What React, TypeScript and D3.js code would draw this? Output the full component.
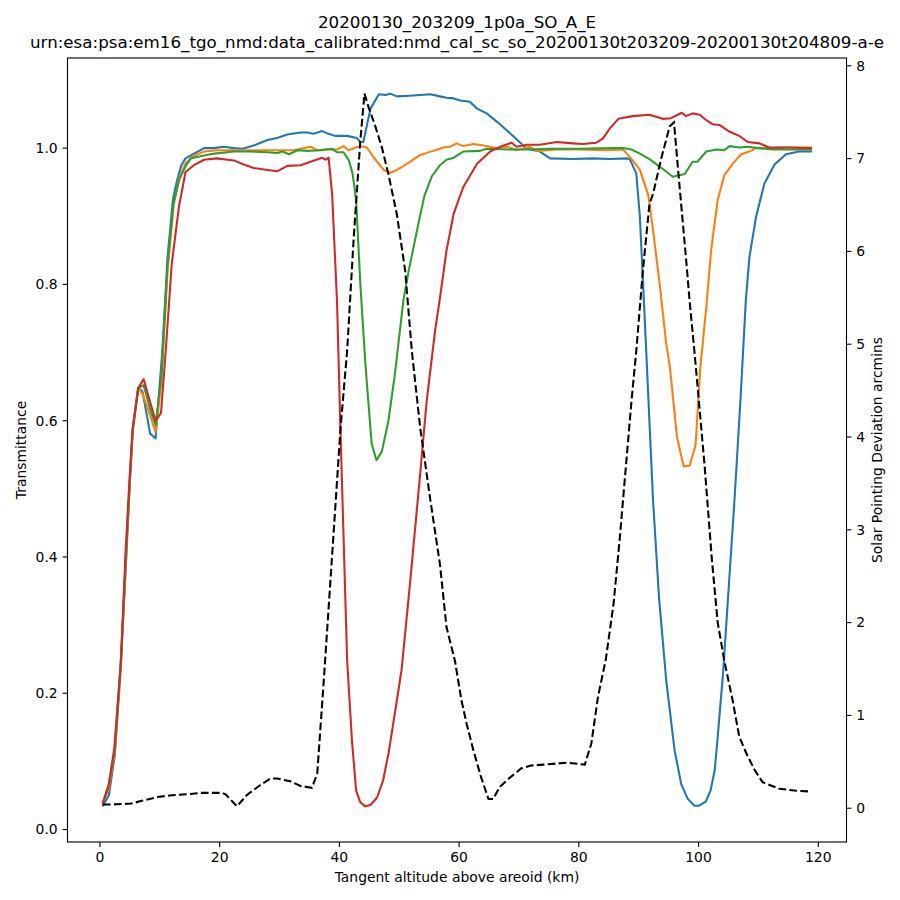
// Transmittance vs tangent altitude, with solar pointing deviation on a twin axis

import { useEffect, useRef } from "react";
import * as d3 from "d3";

type Pt = [number, number]; // [altitude km, value]

const TITLE_LINES = [
  "20200130_203209_1p0a_SO_A_E",
  "urn:esa:psa:em16_tgo_nmd:data_calibrated:nmd_cal_sc_so_20200130t203209-20200130t204809-a-e",
];

const X_TICKS = [0, 20, 40, 60, 80, 100, 120];
const Y_TICKS = [0, 0.2, 0.4, 0.6, 0.8, 1.0];
const Y2_TICKS = [0, 1, 2, 3, 4, 5, 6, 7, 8];

// transmittance, bin 1 (blue)
const BIN_A: Pt[] = [
  [0.5, 0.035], [1.5, 0.05], [2.5, 0.11], [3.5, 0.24], [4.4, 0.4], [5.0, 0.51], [5.5, 0.59],
  [6.4, 0.648], [7.1, 0.643], [8.4, 0.581], [9.3, 0.574], [10.4, 0.7], [11.3, 0.84], [12.2, 0.925],
  [12.9, 0.953], [13.6, 0.975], [14.3, 0.985], [15.7, 0.992], [17.4, 1.0], [19, 1.0], [20.7, 1.002],
  [22.4, 1.0], [23.8, 0.999], [25.7, 1.004], [28, 1.012], [29.6, 1.015], [31.3, 1.02], [33.5, 1.023],
  [34.6, 1.023], [35.7, 1.021], [37.1, 1.025], [37.9, 1.022], [39.3, 1.018], [41.3, 1.018],
  [42.9, 1.015], [43.5, 1.009], [44, 1.009], [45.2, 1.058], [46.6, 1.079], [47.7, 1.078],
  [48.5, 1.08], [49.6, 1.076], [51.8, 1.077], [53.5, 1.078], [55.2, 1.079], [56.8, 1.076],
  [57.9, 1.074], [59.1, 1.073], [60.2, 1.07], [61.8, 1.068], [63, 1.058], [64.6, 1.051],
  [66.3, 1.039], [68, 1.026], [69.6, 1.013], [71.3, 0.999], [73.5, 0.995], [75.2, 0.985],
  [79, 0.984], [82.4, 0.985], [85.2, 0.984], [87.9, 0.985], [88.5, 0.984], [89.6, 0.963],
  [90.2, 0.899], [91, 0.752], [92.4, 0.483], [93.4, 0.34], [94.6, 0.219], [95.2, 0.175],
  [96, 0.116], [97.1, 0.067], [98.2, 0.045], [99.3, 0.035], [100.1, 0.035], [101.2, 0.041],
  [102, 0.057], [102.7, 0.087], [103.2, 0.136], [104.1, 0.23], [105, 0.35], [106, 0.483],
  [107, 0.63], [107.9, 0.777], [108.5, 0.84], [109.6, 0.899], [111, 0.948], [112.7, 0.976],
  [114.6, 0.991], [116.8, 0.995], [118.8, 0.995],
];

// transmittance, bin 2 (orange)
const BIN_B: Pt[] = [
  [0.5, 0.04], [1.5, 0.06], [2.5, 0.115], [3.5, 0.245], [4.4, 0.405], [5.0, 0.51], [5.5, 0.59],
  [6.4, 0.648], [7.2, 0.638], [8.3, 0.61], [9.3, 0.583], [10.3, 0.66], [11.3, 0.82], [12.3, 0.915],
  [13.2, 0.955], [14.3, 0.978], [15.5, 0.988], [17.4, 0.995], [19.6, 0.997], [26.8, 0.997],
  [32.3, 0.997], [35.2, 1.002], [36.3, 0.997], [37.9, 0.998], [39.6, 0.998], [40.7, 1.003],
  [41.5, 0.997], [43.5, 1.003], [44.6, 1.001], [45.7, 0.987], [47.4, 0.968], [48.5, 0.964],
  [49.6, 0.968], [51.3, 0.977], [53.5, 0.99], [55.7, 0.996], [57.4, 1.001], [58.5, 1.002],
  [59.6, 1.007], [60.7, 1.003], [62.4, 1.006], [64.1, 1.004], [66.3, 1.0], [68, 1.002],
  [69.6, 0.997], [71.8, 1.002], [73, 0.996], [76.3, 0.998], [80, 0.998], [84.6, 0.997],
  [87.4, 0.998], [89, 0.982], [90.2, 0.968], [91.6, 0.931], [92.4, 0.88], [93.5, 0.801],
  [94.6, 0.713], [95.2, 0.68], [96.4, 0.576], [97.5, 0.533], [98.5, 0.534], [99.5, 0.564],
  [100.3, 0.679], [100.7, 0.713], [101.4, 0.777], [102.1, 0.85], [103.2, 0.924], [104.3, 0.96],
  [105.7, 0.977], [107.1, 0.991], [108.5, 0.995], [109.6, 1.0], [112.4, 1.0], [115, 1.001],
  [118.8, 1.001],
];

// transmittance, bin 3 (green)
const BIN_C: Pt[] = [
  [0.5, 0.04], [1.5, 0.065], [2.5, 0.12], [3.5, 0.25], [4.4, 0.41], [5.0, 0.515], [5.5, 0.59],
  [6.4, 0.648], [7.3, 0.652], [8.3, 0.62], [9.3, 0.593], [10.3, 0.67], [11.3, 0.83], [12.3, 0.92],
  [13.3, 0.955], [14.4, 0.975], [15.2, 0.985], [16.8, 0.988], [19.1, 0.992], [22.4, 0.995],
  [25, 0.995], [28, 0.994], [29.6, 0.993], [30.5, 0.995], [31.6, 0.991], [33, 0.997],
  [34.6, 0.996], [36.8, 0.997], [38.8, 0.999], [39.6, 0.994], [40.7, 0.994], [41.6, 0.982],
  [42.2, 0.963], [42.8, 0.924], [43.5, 0.801], [44.2, 0.703], [44.6, 0.654], [45.4, 0.566],
  [46.2, 0.542], [47.1, 0.555], [48.2, 0.6], [49.3, 0.67], [50.7, 0.777], [51.6, 0.821],
  [53.2, 0.889], [54.2, 0.93], [55.4, 0.958], [56.8, 0.975], [57.9, 0.983], [59.1, 0.986],
  [60.7, 0.995], [63.5, 0.996], [64.6, 0.999], [68, 0.998], [71.3, 0.998], [75, 0.999],
  [80, 0.999], [85.7, 1.0], [87.6, 1.0], [88.8, 0.998], [90.2, 0.992], [91.8, 0.984],
  [93.5, 0.973], [95.7, 0.958], [97.7, 0.962], [99, 0.98], [99.8, 0.98], [101.3, 0.995],
  [103, 0.998], [104.3, 0.997], [105.2, 1.003], [106.8, 1.001], [108.2, 1.002], [110, 1.0],
  [112.4, 0.998], [115, 0.998], [118.8, 0.998],
];

// transmittance, bin 4 (red)
const BIN_D: Pt[] = [
  [0.5, 0.038], [1.5, 0.067], [2.4, 0.119], [3.5, 0.244], [4.3, 0.41], [4.9, 0.507], [5.4, 0.58],
  [6.4, 0.648], [7.3, 0.661], [8.3, 0.63], [9.3, 0.6], [10.2, 0.611], [11.0, 0.703], [12.0, 0.83],
  [13.2, 0.914], [14.3, 0.965], [15.7, 0.975], [17.4, 0.983], [19.5, 0.985], [22.4, 0.982],
  [24, 0.976], [25.7, 0.971], [28, 0.968], [29.6, 0.966], [31.3, 0.974], [33.5, 0.975],
  [35.2, 0.98], [37.1, 0.986], [37.7, 0.983], [38.2, 0.986], [38.8, 0.931], [39.6, 0.777],
  [40.2, 0.581], [41.3, 0.248], [42.1, 0.131], [42.8, 0.057], [43.5, 0.04], [44.3, 0.034],
  [45.2, 0.036], [46.3, 0.047], [47.3, 0.072], [48.2, 0.111], [49.6, 0.189], [50.4, 0.235],
  [51.8, 0.361], [53.5, 0.522], [54.6, 0.63], [56, 0.733], [56.8, 0.78], [57.9, 0.85],
  [59.1, 0.904], [60.7, 0.943], [63, 0.977], [65.2, 0.995], [67.4, 1.004], [68.8, 1.008],
  [69.6, 1.002], [71.3, 1.005], [73.5, 1.005], [76.3, 1.009], [79, 1.007], [80.7, 1.006],
  [82.9, 1.008], [84, 1.014], [85.2, 1.029], [86.6, 1.043], [89, 1.047], [91.8, 1.049],
  [94, 1.043], [95.4, 1.044], [97.2, 1.052], [97.9, 1.047], [99, 1.051], [100.2, 1.049],
  [101.3, 1.041], [102.4, 1.035], [103.5, 1.034], [105.2, 1.024], [106.8, 1.018], [108.2, 1.009],
  [110.2, 1.007], [111.8, 1.001], [115.2, 1.001], [118.8, 1.0],
];

// solar pointing deviation, arcmins (dashed, right axis)
const DEVIATION: Pt[] = [
  [0.5, 0.04], [2, 0.04], [5.2, 0.05], [7, 0.08], [9.6, 0.12], [12, 0.14], [14.5, 0.15],
  [16.8, 0.165], [20.4, 0.165], [21, 0.15], [22.9, 0.02], [24.5, 0.14], [26.8, 0.25],
  [28.5, 0.32], [29.6, 0.32], [31.8, 0.29], [33.5, 0.24], [35.4, 0.22], [36.3, 0.37],
  [37.4, 1.38], [38.3, 2.25], [40.2, 4.1], [41.3, 4.93], [42.4, 6.15], [43.5, 7.19],
  [44.2, 7.7], [44.9, 7.55], [46, 7.35], [47.1, 7.12], [48.2, 6.83], [49.6, 6.4], [51, 5.79],
  [52.1, 4.93], [53.5, 4.1], [55.2, 3.32], [56.8, 2.63], [57.9, 1.95], [59.3, 1.59],
  [60.4, 1.16], [61.3, 0.9], [62.4, 0.62], [63.6, 0.35], [64.9, 0.1], [65.7, 0.1], [66.8, 0.23],
  [68.5, 0.33], [70.4, 0.43], [72, 0.46], [74.1, 0.47], [78, 0.49], [81, 0.47], [82.1, 0.7],
  [83.2, 1.2], [84.5, 1.6], [85.8, 2.2], [86.8, 2.88], [88.8, 4.39], [89.6, 4.93], [90.7, 5.79],
  [91.8, 6.51], [92.4, 6.62], [93.8, 7.01], [95.2, 7.35], [95.9, 7.39], [96.8, 6.72],
  [97.9, 5.93], [98.5, 5.47], [99.3, 4.93], [100.2, 4.28], [101, 3.7], [102.2, 2.7],
  [103.2, 2.0], [104.3, 1.59], [105.7, 1.16], [106.8, 0.77], [108, 0.59], [109.3, 0.42],
  [110.7, 0.28], [113.5, 0.21], [116, 0.19], [118.8, 0.18],
];

const BINS = [
  { pts: BIN_A, color: "#1f77b4" },
  { pts: BIN_B, color: "#ff7f0e" },
  { pts: BIN_C, color: "#2ca02c" },
  { pts: BIN_D, color: "#d62728" },
];

const FONT = "DejaVu Sans, sans-serif";

// matplotlib-style 5% padding around the data range
function padded(vals: number[]): [number, number] {
  const [lo, hi] = d3.extent(vals) as [number, number];
  const m = (hi - lo) * 0.05;
  return [lo - m, hi + m];
}

export default function App() {
  const svgRef = useRef<SVGSVGElement>(null);

  useEffect(() => {
    document.body.style.margin = "0";
    if (!svgRef.current) return;

    const svg = d3.select(svgRef.current);
    svg.selectAll("*").remove();

    const left = 67.5;
    const right = 846.5;
    const top = 58;
    const bottom = 842;

    const allX = [...BINS.flatMap((b) => b.pts.map((p) => p[0])), ...DEVIATION.map((p) => p[0])];
    const allT = BINS.flatMap((b) => b.pts.map((p) => p[1]));

    const x = d3.scaleLinear().domain(padded(allX)).range([left, right]);
    const y = d3.scaleLinear().domain(padded(allT)).range([bottom, top]);
    const y2 = d3.scaleLinear().domain(padded(DEVIATION.map((p) => p[1]))).range([bottom, top]);

    svg.append("rect").attr("width", 900).attr("height", 900).attr("fill", "#fff");

    svg
      .append("defs")
      .append("clipPath")
      .attr("id", "plot-clip")
      .append("rect")
      .attr("x", left)
      .attr("y", top)
      .attr("width", right - left)
      .attr("height", bottom - top);

    const plot = svg.append("g").attr("clip-path", "url(#plot-clip)");

    const line = (sy: d3.ScaleLinear<number, number>) =>
      d3
        .line<Pt>()
        .x((d) => x(d[0]))
        .y((d) => sy(d[1]));

    BINS.forEach((b) => {
      plot
        .append("path")
        .datum(b.pts)
        .attr("d", line(y))
        .attr("fill", "none")
        .attr("stroke", b.color)
        .attr("stroke-width", 2.08)
        .attr("stroke-linejoin", "round")
        .attr("stroke-linecap", "square");
    });

    plot
      .append("path")
      .datum(DEVIATION)
      .attr("d", line(y2))
      .attr("fill", "none")
      .attr("stroke", "#000")
      .attr("stroke-width", 2.08)
      .attr("stroke-dasharray", "7.7,3.3");

    // frame
    svg
      .append("rect")
      .attr("x", left)
      .attr("y", top)
      .attr("width", right - left)
      .attr("height", bottom - top)
      .attr("fill", "none")
      .attr("stroke", "#000")
      .attr("stroke-width", 1.1);

    const tickLen = 4.9;
    const tickFont = 13.9;

    // bottom axis
    const gx = svg.append("g");
    X_TICKS.forEach((t) => {
      gx.append("line")
        .attr("x1", x(t)).attr("x2", x(t))
        .attr("y1", bottom).attr("y2", bottom + tickLen)
        .attr("stroke", "#000").attr("stroke-width", 1.1);
      gx.append("text")
        .attr("x", x(t)).attr("y", bottom + 20)
        .attr("text-anchor", "middle")
        .style("font-family", FONT).style("font-size", `${tickFont}px`)
        .text(t);
    });

    // left axis
    const gy = svg.append("g");
    Y_TICKS.forEach((t) => {
      gy.append("line")
        .attr("x1", left - tickLen).attr("x2", left)
        .attr("y1", y(t)).attr("y2", y(t))
        .attr("stroke", "#000").attr("stroke-width", 1.1);
      gy.append("text")
        .attr("x", left - 9.8).attr("y", y(t))
        .attr("dy", "0.35em")
        .attr("text-anchor", "end")
        .style("font-family", FONT).style("font-size", `${tickFont}px`)
        .text(t.toFixed(1));
    });

    // right axis
    const gy2 = svg.append("g");
    Y2_TICKS.forEach((t) => {
      gy2.append("line")
        .attr("x1", right).attr("x2", right + tickLen)
        .attr("y1", y2(t)).attr("y2", y2(t))
        .attr("stroke", "#000").attr("stroke-width", 1.1);
      gy2.append("text")
        .attr("x", right + 9.8).attr("y", y2(t))
        .attr("dy", "0.35em")
        .attr("text-anchor", "start")
        .style("font-family", FONT).style("font-size", `${tickFont}px`)
        .text(t);
    });

    // axis labels
    svg.append("text")
      .attr("x", (left + right) / 2).attr("y", 882)
      .attr("text-anchor", "middle")
      .style("font-family", FONT).style("font-size", `${tickFont}px`)
      .text("Tangent altitude above areoid (km)");

    svg.append("text")
      .attr("transform", `translate(26, ${(top + bottom) / 2}) rotate(-90)`)
      .attr("text-anchor", "middle")
      .style("font-family", FONT).style("font-size", `${tickFont}px`)
      .text("Transmittance");

    svg.append("text")
      .attr("transform", `translate(882, ${(top + bottom) / 2}) rotate(-90)`)
      .attr("text-anchor", "middle")
      .style("font-family", FONT).style("font-size", `${tickFont}px`)
      .text("Solar Pointing Deviation arcmins");

    // title
    TITLE_LINES.forEach((s, i) => {
      svg.append("text")
        .attr("x", (left + right) / 2).attr("y", 28 + i * 19.5)
        .attr("text-anchor", "middle")
        .style("font-family", FONT).style("font-size", "16.7px")
        .text(s);
    });
  }, []);

  return <svg ref={svgRef} width={900} height={900} style={{ display: "block" }} />;
}
